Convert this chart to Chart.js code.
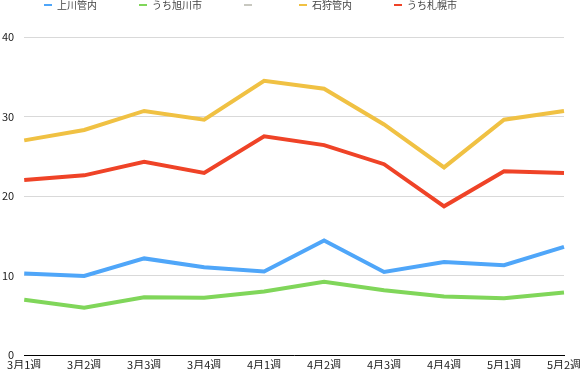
<!DOCTYPE html>
<html>
<head>
<meta charset="utf-8">
<script src="https://cdn.jsdelivr.net/npm/chart.js@4"></script>
<style>
  html, body { margin: 0; padding: 0; background: #fff; }
  #wrap { width: 580px; height: 369px; }
</style>
</head>
<body>
<div id="wrap"><canvas id="myChart"></canvas></div>
<script>
const weeks = ['3月1週', '3月2週', '3月3週', '3月4週', '4月1週', '4月2週', '4月3週', '4月4週', '5月1週', '5月2週'];

const kamikawa = [10.25, 9.95, 12.15, 11.05, 10.5, 14.4, 10.45, 11.7, 11.3, 13.6];
const asahikawa = [6.95, 5.95, 7.25, 7.2, 8.0, 9.2, 8.15, 7.35, 7.15, 7.85];
const blank = [];
const ishikari = [27.0, 28.3, 30.7, 29.6, 34.5, 33.5, 29.0, 23.6, 29.6, 30.7];
const sapporo = [22.0, 22.6, 24.3, 22.9, 27.5, 26.4, 24.0, 18.7, 23.1, 22.9];

const yTicks = [0, 10, 20, 30, 40];

const fontFamily = "'Noto Sans CJK JP', 'Noto Sans', sans-serif";

function line(label, data, color) {
    return {
        label: label,
        data: data,
        borderColor: color,
        backgroundColor: color,
        borderWidth: 4,
        pointRadius: 0,
        pointHoverRadius: 0,
        tension: 0,
        fill: false
    };
}

// legend sits high with wide gaps, so give it extra height below
const legendSpacer = {
    id: 'legendSpacer',
    beforeInit(chart) {
        const fit = chart.legend.fit;
        chart.legend.fit = function () {
            fit.call(this);
            this.height += 17;
        };
    }
};

function renderChart() {
    const ctx = document.getElementById('myChart');

    new Chart(ctx, {
        type: 'line',
        data: {
            labels: weeks,
            datasets: [
                line('上川管内', kamikawa, '#4fa6f9'),
                line('うち旭川市', asahikawa, '#80d65a'),
                line('', blank, '#c8c8c0'),
                line('石狩管内', ishikari, '#f0c143'),
                line('うち札幌市', sapporo, '#ef4327')
            ]
        },
        options: {
            responsive: true,
            maintainAspectRatio: false,
            animation: false,
            layout: {
                padding: { top: -42, left: 2, right: 16, bottom: 0 }
            },
            plugins: {
                tooltip: { enabled: false },
                legend: {
                    position: 'top',
                    align: 'start',
                    labels: {
                        boxWidth: 8,
                        boxHeight: 2,
                        padding: 42,
                        color: '#444',
                        font: { family: fontFamily, size: 10 },
                        generateLabels(chart) {
                            return Chart.defaults.plugins.legend.labels.generateLabels(chart)
                                .map(l => Object.assign(l, { lineWidth: 0 }));
                        }
                    }
                }
            },
            scales: {
                x: {
                    grid: { display: false, drawTicks: false },
                    border: { display: true, color: '#000', width: 1 },
                    ticks: {
                        padding: 4,
                        maxRotation: 0,
                        autoSkip: false,
                        color: '#222',
                        font: { family: fontFamily, size: 11, lineHeight: 1 }
                    },
                    // let the end labels hang past the plot, padding only once below the axis
                    afterFit(scale) {
                        scale.paddingLeft = 0;
                        scale.paddingRight = 0;
                        scale.height -= scale.options.ticks.padding + 1;
                    }
                },
                y: {
                    min: yTicks[0],
                    max: yTicks[yTicks.length - 1],
                    grid: { color: '#d9d9d9', drawTicks: false },
                    border: { display: false },
                    ticks: {
                        stepSize: 10,
                        padding: 10,
                        color: '#222',
                        font: { family: fontFamily, size: 11 }
                    },
                    // fit() counts tick padding twice and reserves room under "0"
                    afterFit(scale) {
                        scale.width -= scale.options.ticks.padding;
                        scale.paddingBottom = 0;
                    }
                }
            }
        },
        plugins: [legendSpacer]
    });
}

renderChart();
</script>
</body>
</html>
